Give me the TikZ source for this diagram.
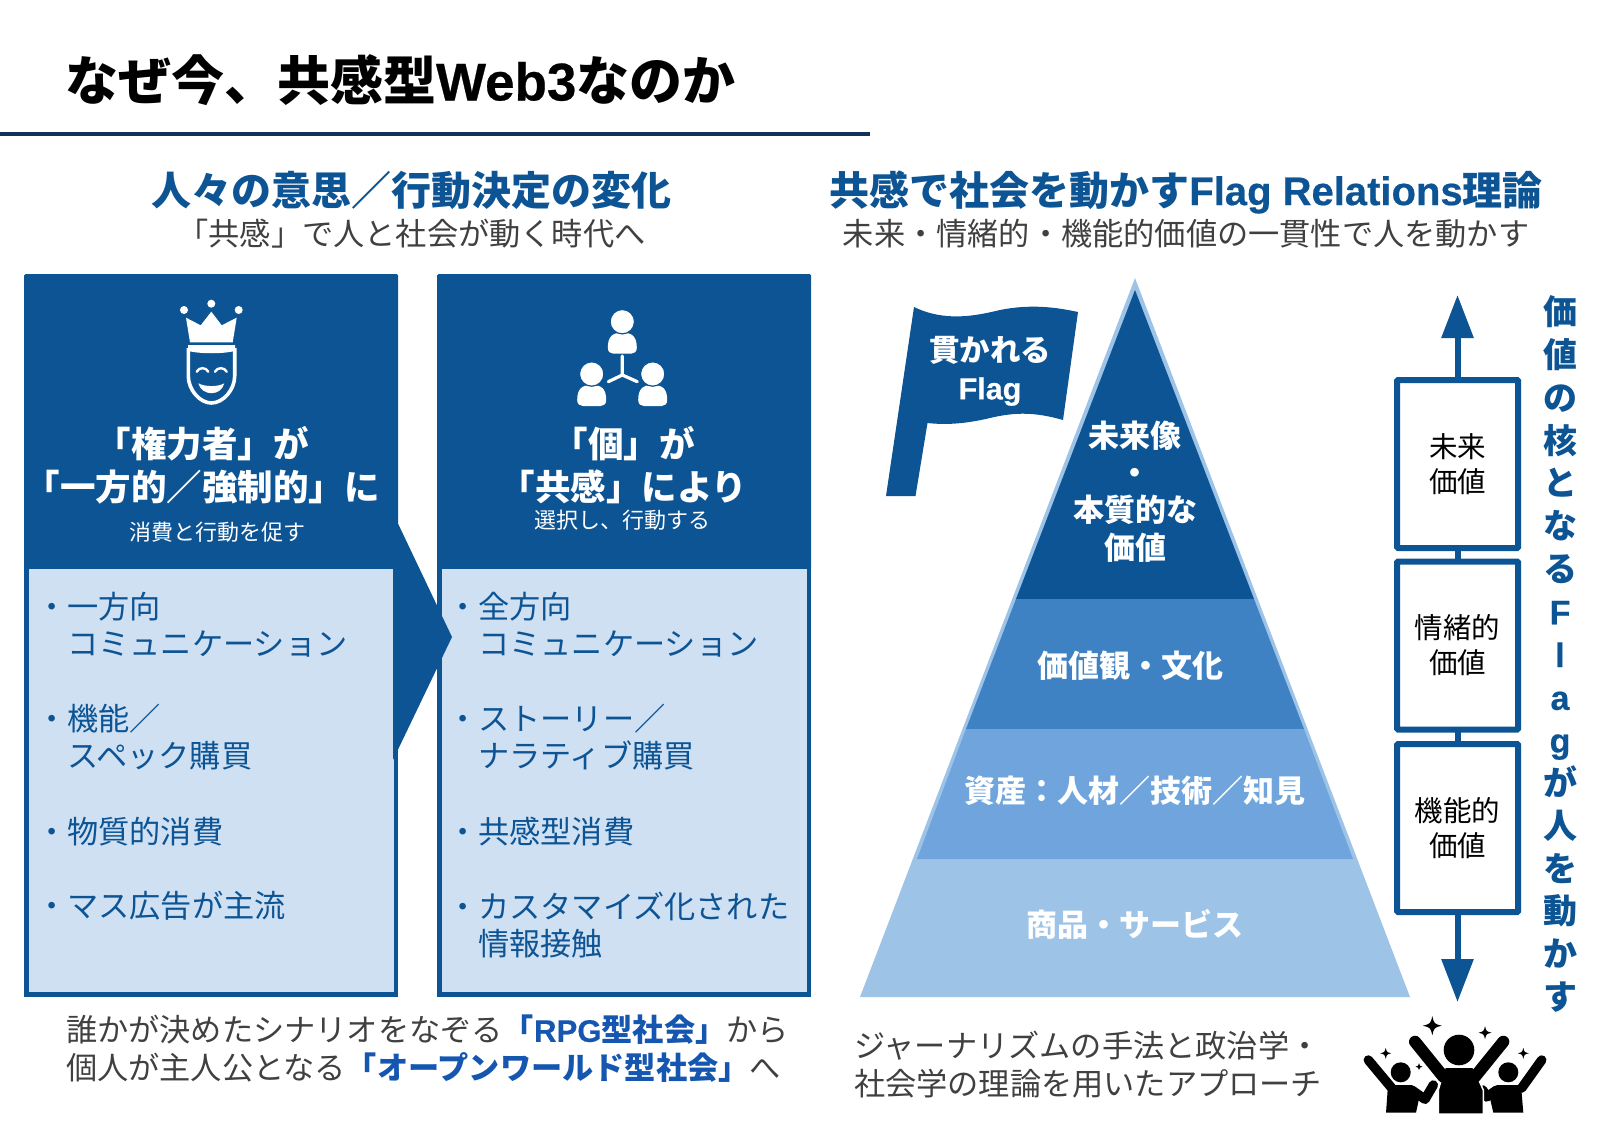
\documentclass[tikz,border=0pt]{standalone}
\usepackage{fontspec}
\usepackage{xcolor}
\usetikzlibrary{arrows.meta}
\setmainfont{Noto Sans CJK JP}
\newfontfamily\latinfont{Liberation Sans}[BoldFeatures={FakeBold=0.5}]
\definecolor{navy}{HTML}{0D5494}
\definecolor{rulenavy}{HTML}{12305F}
\definecolor{pale}{HTML}{CFE0F3}
\definecolor{midone}{HTML}{3F82C4}
\definecolor{midtwo}{HTML}{6FA5DC}
\definecolor{lightblue}{HTML}{9DC3E7}
\definecolor{hilite}{HTML}{1557B0}
\definecolor{subgray}{HTML}{404040}
\tikzset{
    base/.style={inner sep=0pt, outer sep=0pt},
    headtxt/.style={base, text=navy, font=\fontsize{40}{48}\selectfont\bfseries},
    subtxt/.style={base, text=subgray, font=\fontsize{31.2}{38}\selectfont},
    paneltop/.style={base, fill=navy, rounded corners=1.5pt, minimum width=374pt, minimum height=296pt},
    panelbody/.style={base, draw=navy, line width=4.5pt, fill=pale, minimum width=369.5pt, minimum height=427.5pt},
    toptxt/.style={base, text=white, align=center, font=\fontsize{35.5}{43}\selectfont\bfseries},
    smalltxt/.style={base, text=white, font=\fontsize{22}{26}\selectfont},
    itemtxt/.style={base, anchor=west, text=navy, align=left, font=\fontsize{31.2}{37}\selectfont},
    layertxt/.style={base, text=white, align=center, font=\fontsize{31}{38}\selectfont\bfseries},
    valbox/.style={base, draw=navy, line width=6pt, rounded corners=1pt, fill=white, minimum width=121pt, minimum height=168pt, align=center, font=\fontsize{28.5}{35}\selectfont},
    valline/.style={draw=navy, line width=6pt},
    valarrow/.style={valline, -{Triangle[length=43pt,width=31pt]}},
    armline/.style={line width=9.5pt, line cap=round, line join=round},
}
\newcommand{\sparkle}[3]{\fill (#1-#3,#2) .. controls (#1-#3*0.2,#2-#3*0.2) .. (#1,#2-#3) .. controls (#1+#3*0.2,#2-#3*0.2) .. (#1+#3,#2) .. controls (#1+#3*0.2,#2+#3*0.2) .. (#1,#2+#3) .. controls (#1-#3*0.2,#2+#3*0.2) .. cycle;}
\newcommand{\persona}[2]{
    \fill (#1-14.5,#2+26) .. controls (#1-14.5,#2+14) and (#1-9,#2+11) .. (#1,#2+11) .. controls (#1+9,#2+11) and (#1+14.5,#2+14) .. (#1+14.5,#2+26) .. controls (#1+14.5,#2+30) and (#1+12,#2+32) .. (#1+9,#2+32) -- (#1-9,#2+32) .. controls (#1-12,#2+32) and (#1-14.5,#2+30) .. (#1-14.5,#2+26) -- cycle;
    \fill[draw=navy, line width=1.2pt] (#1,#2) circle (12.2);
}
\begin{document}
\begin{tikzpicture}[x=1pt, y=-1pt]
    \useasboundingbox (0,0) rectangle (1600,1126);
    % 1. Title
    \node[base, anchor=west, font=\fontsize{53}{60}\selectfont\bfseries] (title) at (65,80) {なぜ今、共感型{\latinfont Web3}なのか};
    \coordinate (ruleL) at (0,134);
    \coordinate (ruleR) at (870,134);
    \draw[rulenavy, line width=3.5pt] (ruleL) -- (ruleR);

    % 2. Headings
    \node[headtxt] (headL) at (411,190) {人々の意思／行動決定の変化};
    \node[subtxt] (subL) at (411.5,234) {「共感」で人と社会が動く時代へ};
    \node[headtxt] (headR) at (1186,192) {共感で社会を動かす{\latinfont Flag Relations}理論};
    \node[subtxt] (subR) at (1186,234) {未来・情緒的・機能的価値の一貫性で人を動かす};

    % 3. Two panels and the arrow
    \node[paneltop] (topL) at (211,422) {};
    \node[paneltop] (topR) at (624,422) {};
    \node[panelbody] (bodyL) at (211,780.5) {};
    \node[panelbody] (bodyR) at (624,780.5) {};
    \fill[navy] (393,513) -- (452,637) -- (393,760) -- cycle;

    \node[toptxt] (powerTxt) at (202,465) {「権力者」が\\「一方的／強制的」に};
    \node[smalltxt] (powerSub) at (217,532) {消費と行動を促す};
    \node[toptxt] (selfTxt) at (623.5,465) {「個」が\\「共感」により};
    \node[smalltxt] (selfSub) at (622,520) {選択し、行動する};

    \foreach \nm/\y/\txt in {a/625/{・一方向\\\hphantom{・}コミュニケーション}, b/737/{・機能／\\\hphantom{・}スペック購買}, c/832/{・物質的消費}, d/906/{・マス広告が主流}} {
        \node[itemtxt] (itemL\nm) at (36,\y) {\txt};
    }
    \foreach \nm/\y/\txt in {a/625/{・全方向\\\hphantom{・}コミュニケーション}, b/737/{・ストーリー／\\\hphantom{・}ナラティブ購買}, c/832/{・共感型消費}, d/925/{・カスタマイズ化された\\\hphantom{・}情報接触}} {
        \node[itemtxt] (itemR\nm) at (447,\y) {\txt};
    }

    % 4. Crown and mask
    \begin{scope}[white]
        \foreach \x/\y in {184/310, 211.3/303.7, 238.7/310} {
            \fill (\x,\y) circle (4);
        }
        \fill (190,342.3) -- (186,317.7) -- (200.7,325.3) -- (211.3,311.7) -- (221.7,325.3) -- (236.7,317.7) -- (232.7,342.3) -- cycle;
        \fill (188,345) -- (235,345) -- (235,351) .. controls (222,354) and (201,354) .. (188,351) -- cycle;
        \draw[line width=3.6pt, line join=round] (188.3,348) -- (188.3,376) .. controls (188.3,390) and (200,403) .. (211.3,403) .. controls (223,403) and (234.7,390) .. (234.7,376) -- (234.7,348);
        \draw[line width=2.4pt, line cap=round] (196.7,371.7) .. controls (199,367) and (206,367) .. (208.3,371.7);
        \draw[line width=2.4pt, line cap=round] (215,371.7) .. controls (217.3,367) and (224.3,367) .. (226.7,371.7);
        \fill (198.3,383.3) .. controls (205,387) and (218,387) .. (224.3,383.3) .. controls (221,396.5) and (202,396.5) .. (198.3,383.3) -- cycle;
    \end{scope}

    % 5. Three persons
    \begin{scope}[white]
        \persona{622.3}{321.7}
        \persona{591.7}{374}
        \persona{652.7}{374}
        \draw[line width=3.2pt, line cap=round] (622.3,356) -- (622.3,375) -- (608.3,381.7);
        \draw[line width=3.2pt, line cap=round] (622.3,375) -- (637.3,381.7);
    \end{scope}

    % 6. Pyramid
    \fill[lightblue] (1135,278) -- (1410,997) -- (860,997) -- cycle;
    \fill[navy] (1135,290) -- (1254,599) -- (1016,599) -- cycle;
    \fill[midone] (1254,599) -- (1304,729) -- (966,729) -- (1016,599) -- cycle;
    \fill[midtwo] (1304,729) -- (1353,859) -- (917,859) -- (966,729) -- cycle;

    \node[layertxt, font=\fontsize{31}{37.3}\selectfont\bfseries] (layerA) at (1135,491.5) {未来像\\・\\本質的な\\価値};
    \node[layertxt] (layerB) at (1130,666) {価値観・文化};
    \node[layertxt] (layerC) at (1135,791) {資産：人材／技術／知見};
    \node[layertxt] (layerD) at (1135,924) {商品・サービス};

    % 7. Flag
    \fill[navy] (914,307) .. controls (945,322) and (975,316) .. (1000,310) .. controls (1030,304) and (1055,307) .. (1078,312) -- (1063,420) .. controls (1035,412) and (1015,412) .. (990,418) .. controls (965,424) and (945,425) .. (927.5,423) -- (915.5,496) -- (886,496) -- cycle;
    \node[layertxt, font=\fontsize{30.5}{38}\selectfont\bfseries] (flagTxt) at (990,371) {貫かれる\\{\latinfont Flag}};

    % 8. Value boxes
    \node[valbox] (valFuture) at (1457.5,464) {未来\\価値};
    \node[valbox] (valEmotion) at (1457.5,645.5) {情緒的\\価値};
    \node[valbox] (valFunction) at (1457.5,828) {機能的\\価値};
    \coordinate (valTop) at (1457.5,295);
    \coordinate (valEnd) at (1457.5,1002);
    \draw[valline] (valFuture) -- (valEmotion);
    \draw[valline] (valEmotion) -- (valFunction);
    \draw[valarrow] (valFuture) -- (valTop);
    \draw[valarrow] (valFunction) -- (valEnd);

    \node[base, text=navy, align=center, font=\fontsize{34}{42.8}\selectfont\bfseries] (sideTxt) at (1560,654)
        {価\\値\\の\\核\\と\\な\\る\\{\latinfont F}\\{\latinfont l}\\{\latinfont a}\\{\latinfont g}\\が\\人\\を\\動\\か\\す};

    % 9. Bottom text
    \node[base, anchor=west, text=subgray, align=left, font=\fontsize{31.2}{38}\selectfont] (noteL) at (66,1049)
        {誰かが決めたシナリオをなぞる{\bfseries\color{hilite}「{\latinfont RPG}型社会」}から\\個人が主人公となる{\bfseries\color{hilite}「オープンワールド型社会」}へ};
    \node[base, anchor=west, text=subgray, align=left, font=\fontsize{31.2}{38}\selectfont] (noteR) at (854,1064.5)
        {ジャーナリズムの手法と政治学・\\社会学の理論を用いたアプローチ};

    % 10. Crowd
    \begin{scope}[black]
        \fill (1400.7,1072.3) circle (10);
        \fill (1508.3,1072.3) circle (10);
        \fill (1388,1085) -- (1412,1085) -- (1420,1094) -- (1416,1112.7) -- (1386,1112.7) -- cycle;
        \fill (1521,1085) -- (1497,1085) -- (1489,1094) -- (1493.3,1112.7) -- (1523.3,1112.7) -- cycle;
        \draw[armline] (1368.3,1060) -- (1391.7,1088);
        \draw[armline] (1541.7,1060) -- (1521.7,1088);
        \draw[armline] (1411.7,1090) -- (1425,1099.3) -- (1433.3,1085);
        \draw[armline] (1496.7,1090) -- (1486.7,1097) -- (1482.7,1090);
        \fill (1459,1050) circle (15.3);
        \fill[draw=white, line width=1.5pt] (1445,1067) -- (1473,1067) -- (1483.3,1090) -- (1483.3,1114) -- (1438.3,1114) -- (1438.3,1090) -- cycle;
        \draw[armline, line width=12pt] (1415,1041.7) -- (1443.3,1076.7);
        \draw[armline, line width=12pt] (1503.3,1041.7) -- (1475,1076.7);
        \fill (1445,1070) rectangle (1473,1090);
        \foreach \x/\y/\r in {1432.3/1025.7/9.5, 1485/1032.7/6.5, 1385.7/1053.3/5.5, 1523.3/1053.3/5.5, 1419/1066.7/3.5} {
            \sparkle{\x}{\y}{\r}
        }
    \end{scope}
\end{tikzpicture}
\end{document}
